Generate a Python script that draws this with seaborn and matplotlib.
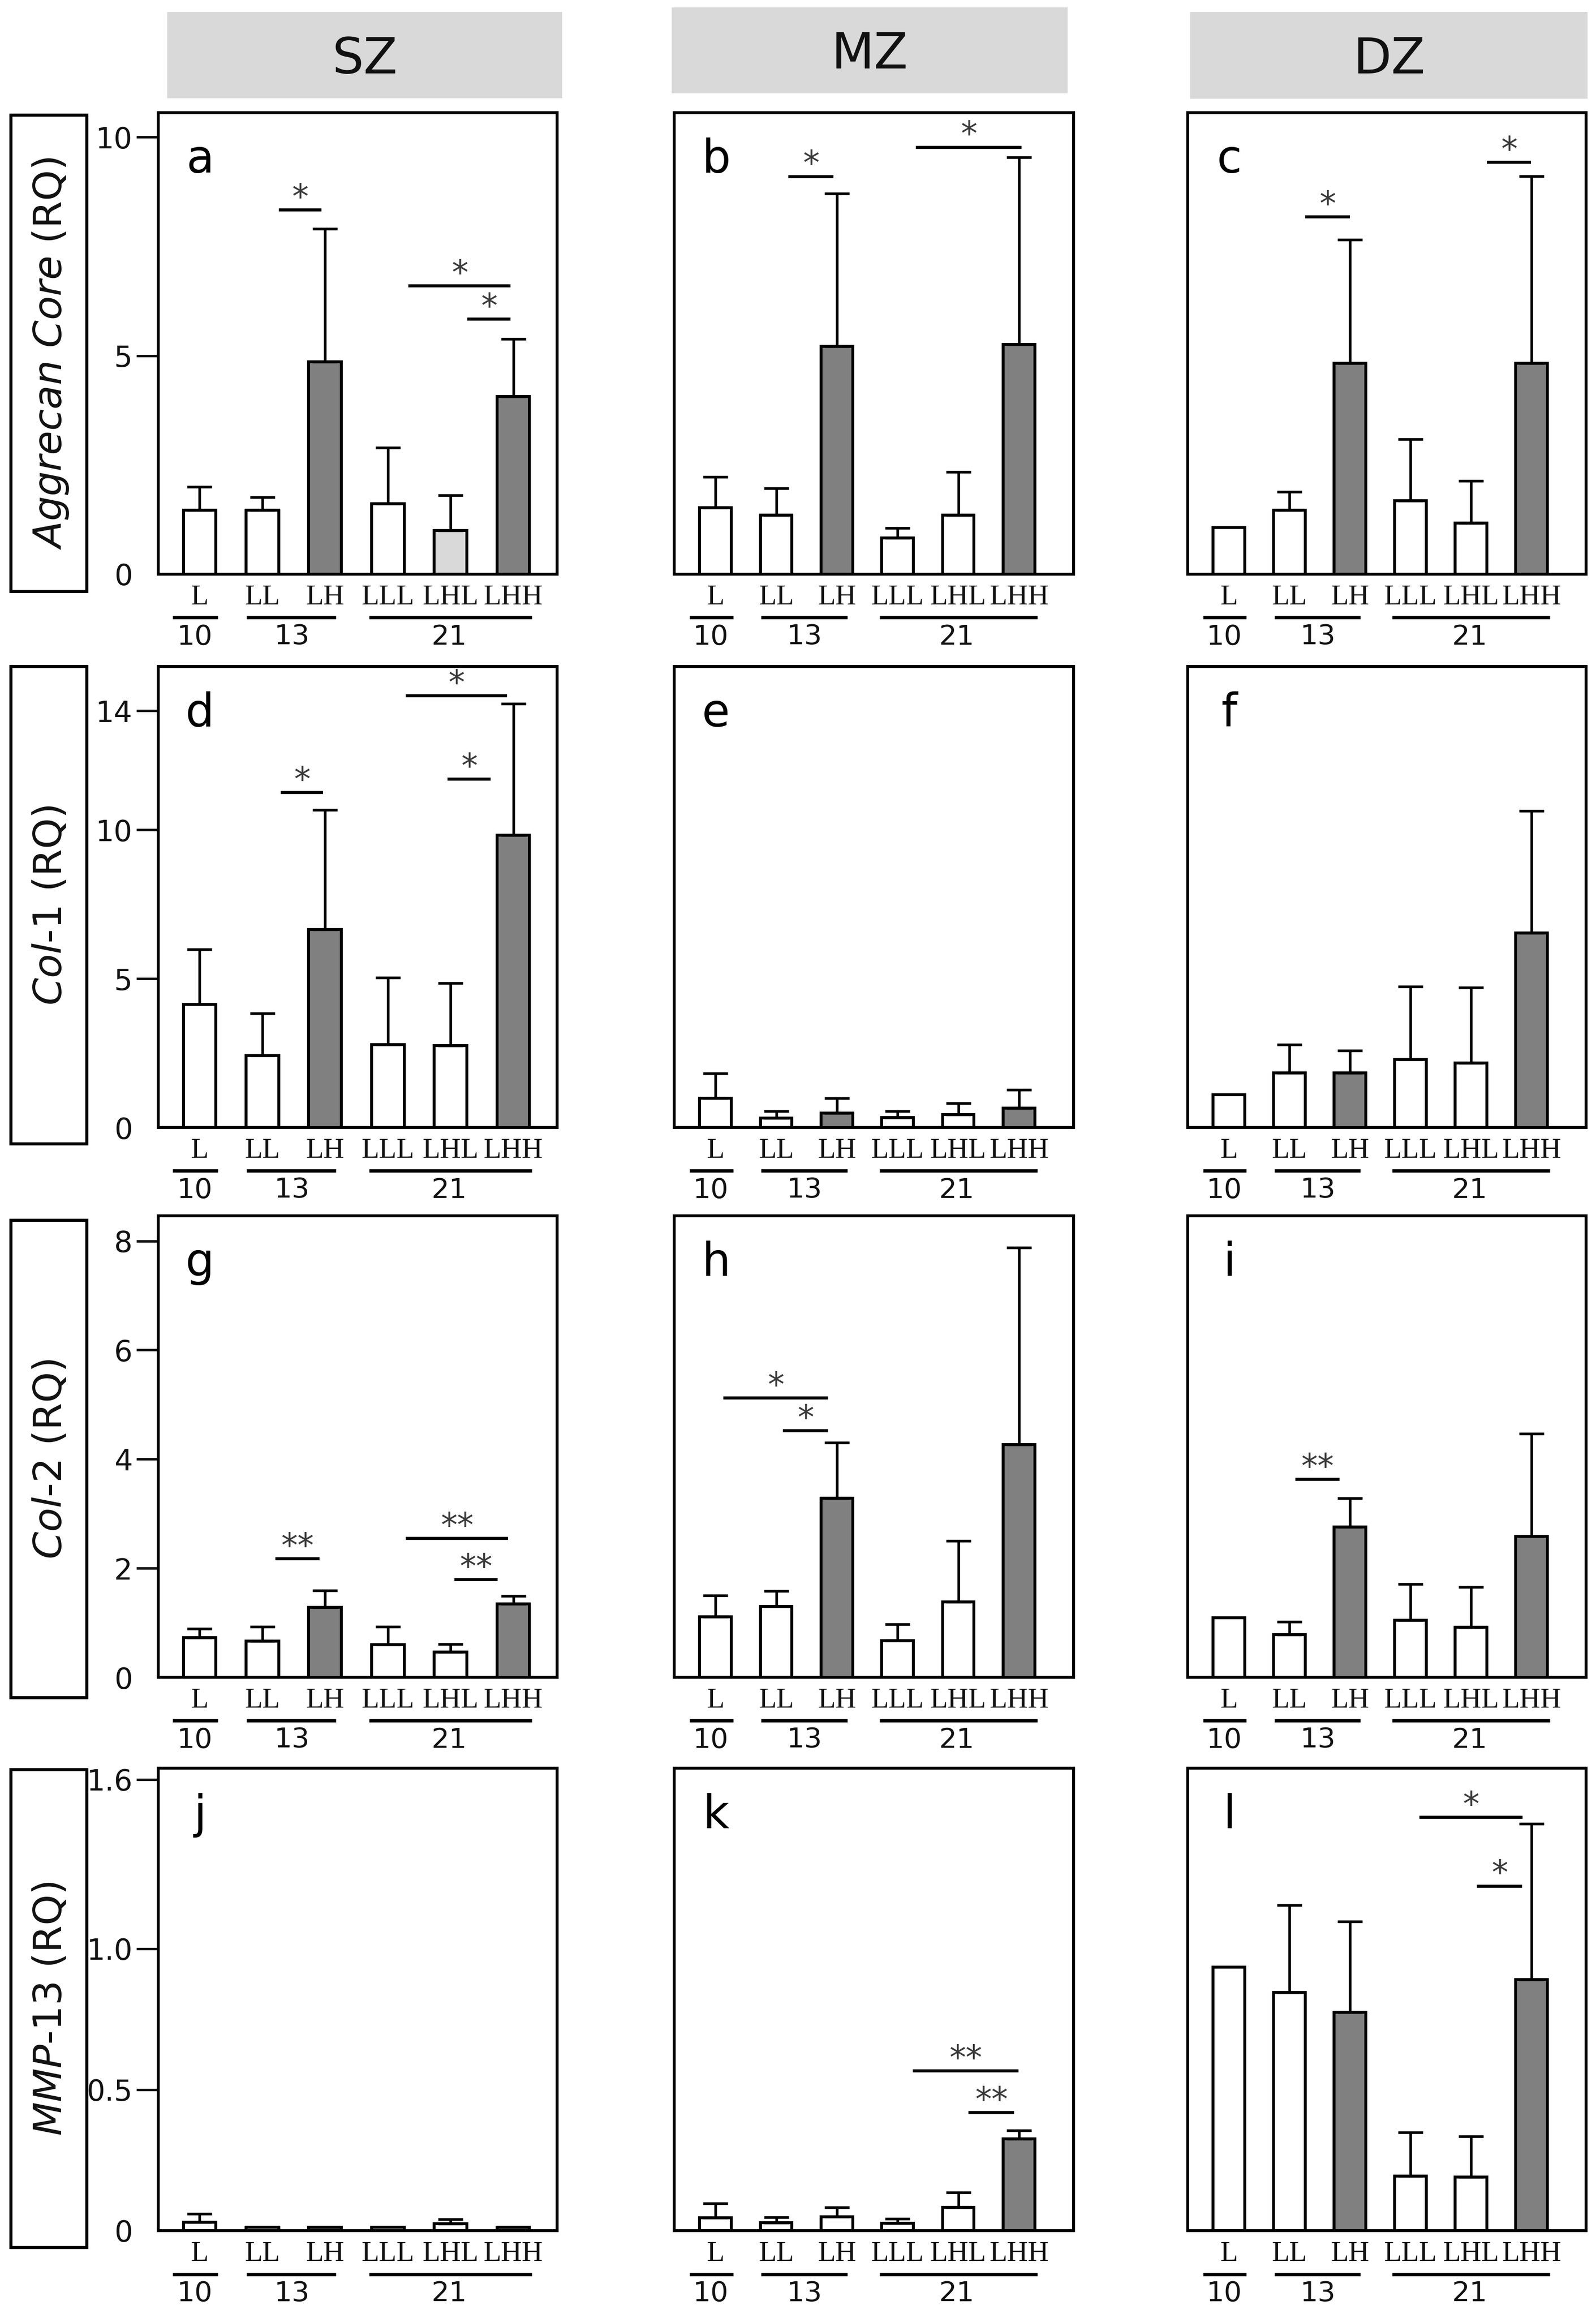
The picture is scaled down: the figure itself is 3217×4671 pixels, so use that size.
import numpy as np
import pandas as pd
import matplotlib
matplotlib.use('Agg')
import matplotlib.pyplot as plt
import seaborn as sns
from matplotlib.patches import Rectangle

sns.set_theme(style='white')
plt.rcParams['font.family'] = ['DejaVu Sans']
plt.rcParams['mathtext.fontset'] = 'dejavusans'

# ---------------- data ----------------
categories = ['L', 'LL', 'LH', 'LLL', 'LHL', 'LHH']
zones = ['SZ', 'MZ', 'DZ']
gene_labels = [r'$\mathit{Aggrecan\ Core}$ (RQ)',
               r'$\mathit{Col}$-$\mathit{1}$ (RQ)',
               r'$\mathit{Col}$-$\mathit{2}$ (RQ)',
               r'$\mathit{MMP}$-$\mathit{13}$ (RQ)']
panel_letters = ['a', 'b', 'c', 'd', 'e', 'f', 'g', 'h', 'i', 'j', 'k', 'l']
day_groups = ['10', '13', '21']

# Aggrecan core
a_mean = [1.47, 1.47, 4.86, 1.61, 1.00, 4.06]
a_sd   = [0.53, 0.29, 3.04, 1.29, 0.80, 1.32]
b_mean = [1.52, 1.35, 5.21, 0.83, 1.35, 5.26]
b_sd   = [0.70, 0.62, 3.50, 0.23, 0.99, 4.28]
c_mean = [1.07, 1.46, 4.83, 1.68, 1.17, 4.83]
c_sd   = [0.00, 0.42, 2.82, 1.41, 0.96, 4.28]
# Col-1
d_mean = [4.13, 2.42, 6.66, 2.78, 2.75, 9.82]
d_sd   = [1.86, 1.41, 4.01, 2.26, 2.10, 4.42]
e_mean = [0.98, 0.31, 0.49, 0.33, 0.43, 0.65]
e_sd   = [0.83, 0.24, 0.49, 0.22, 0.39, 0.61]
f_mean = [1.10, 1.83, 1.83, 2.29, 2.16, 6.54]
f_sd   = [0.00, 0.96, 0.76, 2.45, 2.55, 4.10]
# Col-2
g_mean = [0.73, 0.66, 1.28, 0.60, 0.46, 1.35]
g_sd   = [0.16, 0.27, 0.31, 0.33, 0.15, 0.14]
h_mean = [1.11, 1.30, 3.28, 0.67, 1.38, 4.27]
h_sd   = [0.39, 0.28, 1.02, 0.30, 1.12, 3.61]
i_mean = [1.09, 0.78, 2.76, 1.05, 0.92, 2.58]
i_sd   = [0.00, 0.24, 0.52, 0.66, 0.74, 1.89]
# MMP-13
j_mean = [0.030, 0.012, 0.012, 0.012, 0.025, 0.012]
j_sd   = [0.030, 0.000, 0.000, 0.000, 0.015, 0.000]
k_mean = [0.046, 0.028, 0.049, 0.026, 0.083, 0.325]
k_sd   = [0.050, 0.020, 0.033, 0.016, 0.052, 0.031]
l_mean = [0.934, 0.845, 0.774, 0.194, 0.190, 0.890]
l_sd   = [0.000, 0.310, 0.323, 0.154, 0.145, 0.553]

# significance brackets: (from, to, height, label)
a_sig = [(1.26, 1.94, 8.33, '*'), (3.33, 4.96, 6.60, '*'), (4.27, 4.96, 5.84, '*')]
b_sig = [(1.20, 1.94, 9.10, '*'), (3.30, 5.04, 9.77, '*')]
c_sig = [(1.26, 2.00, 8.17, '*'), (4.26, 4.99, 9.42, '*')]
d_sig = [(1.29, 1.97, 11.25, '*'), (3.95, 4.64, 11.70, '*'), (3.29, 4.90, 14.50, '*')]
e_sig = []
f_sig = []
g_sig = [(1.21, 1.91, 2.17, '**'), (3.29, 4.92, 2.55, '**'), (4.06, 4.75, 1.79, '**')]
h_sig = [(0.13, 1.85, 5.12, '*'), (1.11, 1.85, 4.52, '*')]
i_sig = [(1.10, 1.83, 3.63, '**')]
j_sig = []
k_sig = [(3.25, 4.99, 0.566, '**'), (4.17, 4.92, 0.418, '**')]
l_sig = [(3.15, 4.85, 1.466, '*'), (4.10, 4.84, 1.222, '*')]

row_ymax = [10.56, 15.49, 8.46, 1.64]
row_ticks = [[0, 5, 10], [0, 5, 10, 14], [0, 2, 4, 6, 8], [0, 0.5, 1.0, 1.6]]
row_ticklabels = [['0', '5', '10'], ['0', '5', '10', '14'],
                  ['0', '2', '4', '6', '8'], ['0', '0.5', '1.0', '1.6']]

WHITE, DARK, LIGHT = 'white', '#808080', '#d9d9d9'
default_fill = [WHITE, WHITE, DARK, WHITE, WHITE, DARK]
fills = {p: list(default_fill) for p in panel_letters}
fills['a'] = [WHITE, WHITE, DARK, WHITE, LIGHT, DARK]
fills['k'] = [WHITE, WHITE, WHITE, WHITE, WHITE, DARK]

means = dict(a=a_mean, b=b_mean, c=c_mean, d=d_mean, e=e_mean, f=f_mean,
             g=g_mean, h=h_mean, i=i_mean, j=j_mean, k=k_mean, l=l_mean)
sds = dict(a=a_sd, b=b_sd, c=c_sd, d=d_sd, e=e_sd, f=f_sd,
           g=g_sd, h=h_sd, i=i_sd, j=j_sd, k=k_sd, l=l_sd)
sigs = dict(a=a_sig, b=b_sig, c=c_sig, d=d_sig, e=e_sig, f=f_sig,
            g=g_sig, h=h_sig, i=i_sig, j=j_sig, k=k_sig, l=l_sig)

# ---------------- layout (pixels) ----------------
W, H = 3217, 4671
col_x = [(319, 1123), (1359, 2164), (2394, 3197)]
row_y = [(227, 1157), (1343, 2272), (2450, 3380), (3563, 4495)]
col_xlim = [(-0.66, 5.70), (-0.68, 5.90), (-0.68, 5.90)]
header_boxes = [(337, 1133, 24, 198), (1354, 2152, 15, 188), (2399, 3200, 24, 199)]
label_box_x = (22, 175)
label_box_y = [(232, 1192), (1343, 2305), (2459, 3421), (3566, 4529)]

group_spans = [(-0.43, 0.29), (0.75, 2.17), (2.70, 5.30)]
group_text_x = [-0.08, 1.47, 3.98]


def rect_fig(x0, x1, y0, y1):
    return [x0 / W, 1 - y1 / H, (x1 - x0) / W, (y1 - y0) / H]


fig = plt.figure(figsize=(W / 300, H / 300), dpi=300)

# header boxes
for (x0, x1, y0, y1), z in zip(header_boxes, zones):
    r = rect_fig(x0, x1, y0, y1)
    fig.add_artist(Rectangle((r[0], r[1]), r[2], r[3], transform=fig.transFigure,
                             facecolor='#d9d9d9', edgecolor='none'))
    fig.text(r[0] + r[2] / 2, r[1] + r[3] / 2 - 0.002, z, ha='center', va='center',
             fontsize=24, color='#111111')

# row label boxes
for (y0, y1), lab in zip(label_box_y, gene_labels):
    r = rect_fig(label_box_x[0], label_box_x[1], y0, y1)
    fig.add_artist(Rectangle((r[0], r[1]), r[2], r[3], transform=fig.transFigure,
                             facecolor='none', edgecolor='black', linewidth=1.5))
    fig.text(r[0] + r[2] / 2 + 0.001, r[1] + r[3] / 2, lab, rotation=90,
             ha='center', va='center', fontsize=19, color='#111111')

for r_i in range(4):
    for c_i in range(3):
        p = panel_letters[r_i * 3 + c_i]
        ax = fig.add_axes(rect_fig(col_x[c_i][0], col_x[c_i][1], row_y[r_i][0], row_y[r_i][1]))
        df = pd.DataFrame({'group': categories, 'value': means[p]})
        sns.barplot(data=df, x='group', y='value', hue='group', order=categories,
                    hue_order=categories, palette=fills[p], saturation=1,
                    edgecolor='black', linewidth=1.4, width=0.52, errorbar=None,
                    legend=False, ax=ax)
        idx = [k for k in range(6) if sds[p][k] > 0]
        ax.errorbar(idx, [means[p][k] for k in idx],
                    yerr=[[0] * len(idx), [sds[p][k] for k in idx]],
                    fmt='none', ecolor='black', elinewidth=1.3, capsize=6,
                    capthick=1.3, zorder=3)
        for (x0, x1, yv, lab) in sigs[p]:
            ax.plot([x0, x1], [yv, yv], color='black', lw=1.5, solid_capstyle='butt')
            ax.annotate(lab, ((x0 + x1) / 2, yv), xytext=(0, 1), textcoords='offset points',
                        ha='center', va='baseline', fontsize=16, color='#3a3a3a')
        ax.set_xlim(*col_xlim[c_i])
        ax.set_ylim(0, row_ymax[r_i])
        ax.set_xlabel('')
        ax.set_ylabel('')
        for s in ax.spines.values():
            s.set_visible(True)
            s.set_color('black')
            s.set_linewidth(1.4)
        ax.set_xticks(range(6))
        ax.set_xticklabels(categories, family='Liberation Serif', fontsize=14)
        ax.tick_params(axis='x', length=0, pad=5, colors='#111111')
        if c_i == 0:
            ax.set_yticks(row_ticks[r_i])
            ax.set_yticklabels(row_ticklabels[r_i], fontsize=14)
            ax.tick_params(axis='y', left=True, length=10.5, width=1.2, pad=2,
                           colors='#111111', direction='out')
            ax.yaxis.get_major_ticks()[0].tick1line.set_visible(False)
        else:
            ax.set_yticks([])
        ax.text(0.105, 0.87, p, transform=ax.transAxes, ha='center', va='baseline',
                fontsize=22, color='black')
        tr = ax.get_xaxis_transform()
        for (g0, g1), gx, gl in zip(group_spans, group_text_x, day_groups):
            ax.plot([g0, g1], [-0.094, -0.094], transform=tr, color='black', lw=1.6,
                    clip_on=False, solid_capstyle='butt')
            ax.text(gx, -0.136, gl, transform=tr, ha='center', va='center',
                    fontsize=13.5, color='#111111')

fig.savefig('out.png', dpi=300)
